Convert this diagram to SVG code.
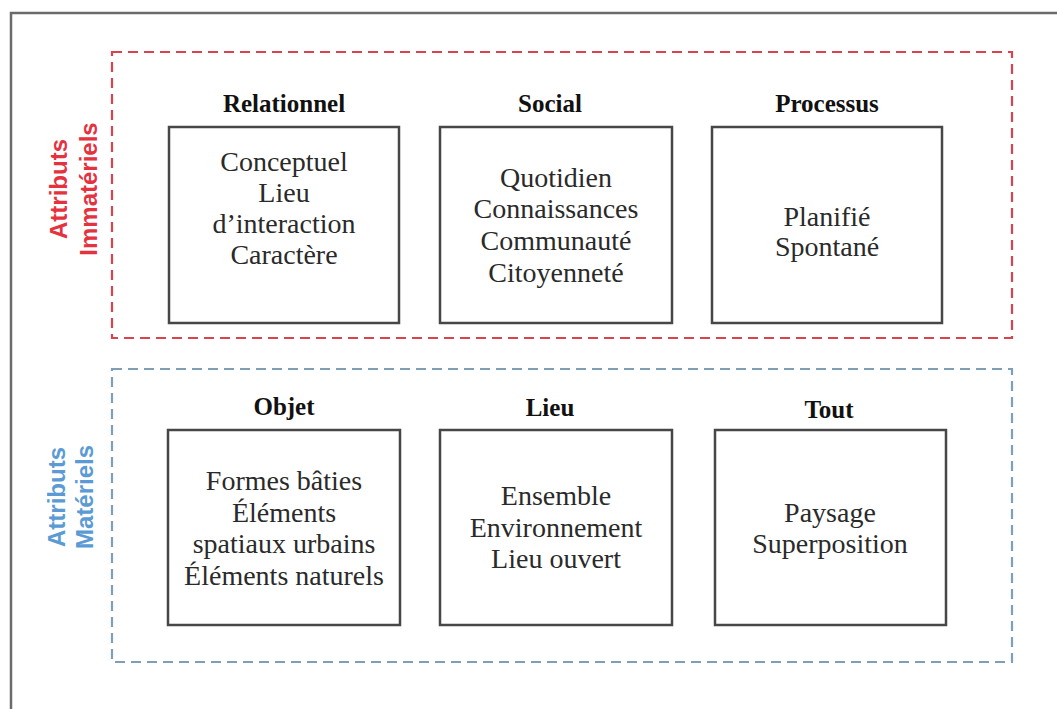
<svg xmlns="http://www.w3.org/2000/svg" width="1057" height="709" viewBox="0 0 1057 709">
<style>
.frame{fill:none;stroke:#6b6b6b;stroke-width:2.5}
.grp-red{fill:none;stroke:#d9434e;stroke-width:2.2;stroke-dasharray:10 6}
.grp-blue{fill:none;stroke:#7f9fb8;stroke-width:2.2;stroke-dasharray:10 6}
.box{fill:#fff;stroke:#474747;stroke-width:2.5}
.title{font-family:"Liberation Serif",serif;font-weight:bold;font-size:25px;fill:#111;text-anchor:middle}
.body{font-family:"Liberation Serif",serif;font-size:28px;fill:#2a2a2a;text-anchor:middle}
.side{font-family:"Liberation Sans",sans-serif;font-weight:bold;font-size:24px;text-anchor:middle}
.red{fill:#e5323f}
.blue{fill:#5b9bd5}
</style>
<rect width="1057" height="709" fill="#fff"/>
<g id="frame">
<path class="frame" d="M11,709 V13 H1057"/>
</g>
<g id="group-immateriels">
<rect class="grp-red" x="112" y="52" width="900" height="286"/>
<text class="side red" transform="translate(67,189) rotate(-90)">Attributs</text>
<text class="side red" transform="translate(97,189) rotate(-90)">Immatériels</text>
</g>
<g id="group-materiels">
<rect class="grp-blue" x="112" y="369" width="900" height="293"/>
<text class="side blue" transform="translate(65,497) rotate(-90)">Attributs</text>
<text class="side blue" transform="translate(93,497) rotate(-90)">Matériels</text>
</g>
<g id="relationnel">
<text class="title" x="284" y="112">Relationnel</text>
<rect class="box" x="169" y="127" width="230" height="196"/>
<text class="body" x="284" y="171">Conceptuel</text>
<text class="body" x="284" y="202">Lieu</text>
<text class="body" x="284" y="233">d’interaction</text>
<text class="body" x="284" y="264">Caractère</text>
</g>
<g id="social">
<text class="title" x="550" y="112">Social</text>
<rect class="box" x="440" y="127" width="232" height="196"/>
<text class="body" x="556" y="187">Quotidien</text>
<text class="body" x="556" y="218">Connaissances</text>
<text class="body" x="556" y="250">Communauté</text>
<text class="body" x="556" y="282">Citoyenneté</text>
</g>
<g id="processus">
<text class="title" x="827" y="112">Processus</text>
<rect class="box" x="712" y="127" width="230" height="196"/>
<text class="body" x="827" y="226">Planifié</text>
<text class="body" x="827" y="256">Spontané</text>
</g>
<g id="objet">
<text class="title" x="284" y="415">Objet</text>
<rect class="box" x="168" y="430" width="232" height="195"/>
<text class="body" x="284" y="490">Formes bâties</text>
<text class="body" x="284" y="522">Éléments</text>
<text class="body" x="284" y="553">spatiaux urbains</text>
<text class="body" x="284" y="585">Éléments naturels</text>
</g>
<g id="lieu">
<text class="title" x="550" y="416">Lieu</text>
<rect class="box" x="440" y="430" width="232" height="195"/>
<text class="body" x="556" y="505">Ensemble</text>
<text class="body" x="556" y="537">Environnement</text>
<text class="body" x="556" y="568">Lieu ouvert</text>
</g>
<g id="tout">
<text class="title" x="829" y="418">Tout</text>
<rect class="box" x="715" y="430" width="231" height="195"/>
<text class="body" x="830" y="522">Paysage</text>
<text class="body" x="830" y="553">Superposition</text>
</g>
<g id="connectors"></g>
</svg>
